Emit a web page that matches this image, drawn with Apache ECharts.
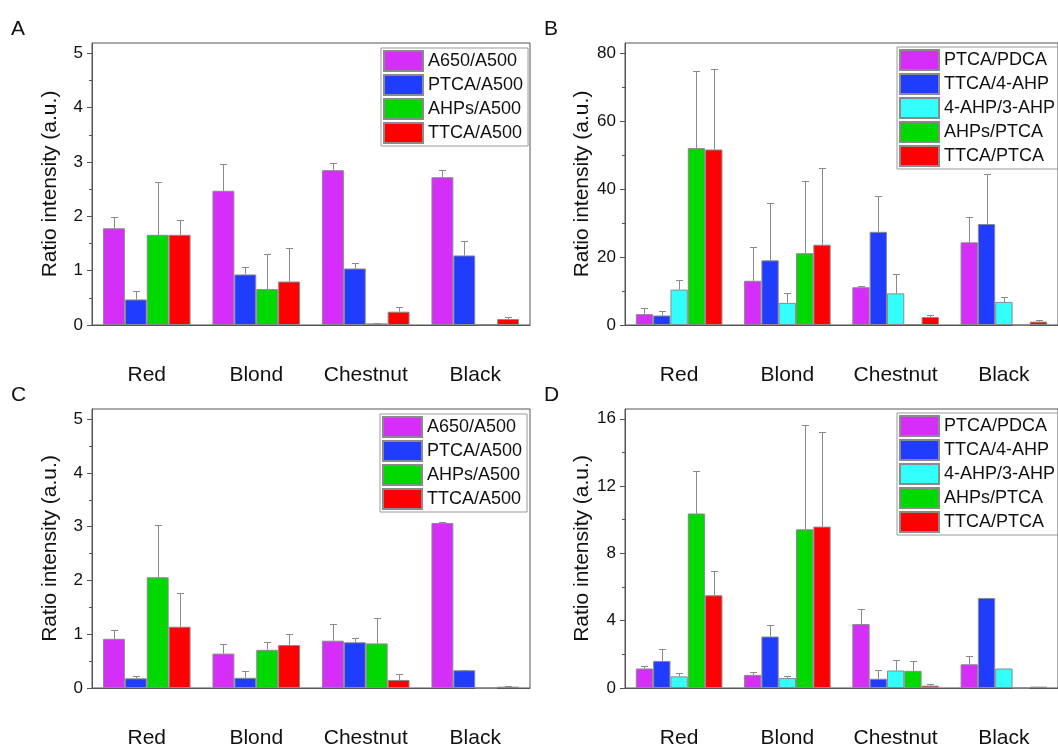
<!DOCTYPE html>
<html lang="en">
<head>
    <meta charset="UTF-8">
    <title>Ratio intensity</title>
    <script src="https://cdn.jsdelivr.net/npm/echarts@6/dist/echarts.min.js"></script>
    <style>
body{
    margin:0;
    background:#fff;
}
#chart{
    width:1058px;
    height:749px;
}
    </style>
</head>
<body>
<div id="chart"></div>
<script type="text/javascript">
    // categories (hair colour)
    var cats = ['Red', 'Blond', 'Chestnut', 'Black'];

    // panels A / C series names
    var namesAC = ['A650/A500', 'PTCA/A500', 'AHPs/A500', 'TTCA/A500'];
    // panels B / D series names
    var namesBD = ['PTCA/PDCA', 'TTCA/4-AHP', '4-AHP/3-AHP', 'AHPs/PTCA', 'TTCA/PTCA'];

    var colorsAC = ['#d42ef8', '#1f3cff', '#00d900', '#ff0000'];
    var colorsBD = ['#d42ef8', '#1f3cff', '#33ffff', '#00d900', '#ff0000'];

    // panel A values and errors (upper error only)
    var aA650 = [1.78, 2.47, 2.85, 2.72];
    var aA650Err = [0.21, 0.49, 0.13, 0.13];
    var aPTCA = [0.47, 0.93, 1.04, 1.28];
    var aPTCAErr = [0.16, 0.13, 0.11, 0.27];
    var aAHPs = [1.66, 0.66, 0.03, 0.01];
    var aAHPsErr = [0.97, 0.64, 0.01, 0];
    var aTTCA = [1.66, 0.80, 0.245, 0.11];
    var aTTCAErr = [0.27, 0.61, 0.09, 0.04];

    // panel B
    var bPTCAPDCA = [3.2, 13.0, 11.1, 24.3];
    var bPTCAPDCAErr = [1.7, 9.8, 0.5, 7.4];
    var bTTCA4AHP = [2.8, 19.0, 27.4, 29.7];
    var bTTCA4AHPErr = [1.3, 16.9, 10.6, 14.6];
    var b4AHP3AHP = [10.4, 6.5, 9.3, 6.8];
    var b4AHP3AHPErr = [2.8, 3.0, 5.8, 1.4];
    var bAHPsPTCA = [52.0, 21.1, 0.3, 0];
    var bAHPsPTCAErr = [22.6, 21.3, 0, 0];
    var bTTCAPTCA = [51.6, 23.6, 2.35, 1.0];
    var bTTCAPTCAErr = [23.7, 22.7, 0.65, 0.4];

    // panel C
    var cA650 = [0.915, 0.64, 0.88, 3.07];
    var cA650Err = [0.155, 0.17, 0.31, 0.02];
    var cPTCA = [0.18, 0.19, 0.85, 0.33];
    var cPTCAErr = [0.04, 0.12, 0.08, 0.01];
    var cAHPs = [2.06, 0.71, 0.83, 0];
    var cAHPsErr = [0.97, 0.14, 0.47, 0];
    var cTTCA = [1.14, 0.80, 0.15, 0.025];
    var cTTCAErr = [0.62, 0.20, 0.11, 0.015];

    // panel D
    var dPTCAPDCA = [1.16, 0.78, 3.80, 1.41];
    var dPTCAPDCAErr = [0.13, 0.16, 0.87, 0.47];
    var dTTCA4AHP = [1.61, 3.06, 0.55, 5.35];
    var dTTCA4AHPErr = [0.70, 0.70, 0.49, 0];
    var d4AHP3AHP = [0.69, 0.59, 1.04, 1.16];
    var d4AHP3AHPErr = [0.21, 0.12, 0.63, 0];
    var dAHPsPTCA = [10.37, 9.43, 1.02, 0];
    var dAHPsPTCAErr = [2.51, 6.17, 0.61, 0];
    var dTTCAPTCA = [5.51, 9.59, 0.14, 0.08];
    var dTTCAPTCAErr = [1.45, 5.61, 0.10, 0];

    // y tick labels
    var ticksAC = [0, 1, 2, 3, 4, 5];
    var ticksB = [0, 20, 40, 60, 80];
    var ticksD = [0, 4, 8, 12, 16];

    var font = "'Liberation Sans', Arial, sans-serif";
    var option = {
        textStyle: {fontFamily: font},
        animation: false,
        title: [], grid: [], xAxis: [], yAxis: [], legend: [], series: []
    };

    /*error bar drawn on top of the matching bar*/
    function errRender(n, i) {
        return function (params, api) {
            var e = api.value(2);
            if (!e) return;
            var band = api.size([1, 0])[0];
            var bw = band * 0.8 / n;
            var x = api.coord([api.value(0), 0])[0] + (i - (n - 1) / 2) * bw;
            x = Math.round(x) + 0.5;
            var y0 = api.coord([api.value(0), api.value(1)])[1];
            var y1 = Math.round(api.coord([api.value(0), api.value(1) + e])[1]) + 0.5;
            var st = {stroke: '#8a8a8a', lineWidth: 1};
            return {
                type: 'group',
                children: [
                    {type: 'line', shape: {x1: x, y1: y0, x2: x, y2: y1}, style: st},
                    {type: 'line', shape: {x1: x - 3.5, y1: y1, x2: x + 3.5, y2: y1}, style: st}
                ]
            };
        };
    }

    function addPanel(k, letter, box, legendPos, names, colors, vals, errs, yMax, yInt, ticks) {
        option.title.push({
            text: letter, left: box.left - 81, top: box.top - 24, padding: 0,
            textStyle: {fontSize: 21, fontWeight: 'normal', color: '#111', fontFamily: font}
        });
        option.grid.push({
            left: box.left, top: box.top, width: 438, height: 282,
            show: true, borderColor: '#555', borderWidth: 1
        });
        option.xAxis.push({
            type: 'category', gridIndex: k, data: cats,
            axisTick: {show: false},
            axisLine: {lineStyle: {color: '#555', width: 1}},
            axisLabel: {margin: 40, interval: 0, fontSize: 21, color: '#111', fontFamily: font}
        });
        option.yAxis.push({
            type: 'value', gridIndex: k, min: 0, max: yMax, interval: yInt,
            name: 'Ratio intensity (a.u.)', nameLocation: 'middle', nameGap: 31,
            nameTextStyle: {fontSize: 21, color: '#111', fontFamily: font},
            splitLine: {show: false},
            axisLine: {show: true, lineStyle: {color: '#555', width: 1}},
            axisTick: {show: true, inside: false, length: 5, customValues: ticks, lineStyle: {color: '#555'}},
            minorTick: {show: true, splitNumber: 2, length: 3, lineStyle: {color: '#555'}},
            axisLabel: {margin: 9, fontSize: 17, color: '#111', customValues: ticks, fontFamily: font}
        });
        option.legend.push({
            orient: 'vertical', left: legendPos[0], top: legendPos[1],
            data: names, icon: 'rect', selectedMode: false,
            itemWidth: 39, itemHeight: 20, itemGap: 2,
            padding: [2, 5, 2, 2],
            borderColor: '#999', borderWidth: 1,
            textStyle: {fontSize: 18, color: '#111', fontFamily: font}
        });
        var n = names.length;
        for (var i = 0; i < n; i++) {
            option.series.push({
                name: names[i], type: 'bar', xAxisIndex: k, yAxisIndex: k,
                data: vals[i], barGap: '0%', barCategoryGap: '20%',
                itemStyle: {color: colors[i], borderColor: '#8a8a8a', borderWidth: 1}
            });
        }
        for (var j = 0; j < n; j++) {
            var ed = vals[j].map(function (v, c) { return [c, v, errs[j][c]]; });
            option.series.push({
                type: 'custom', xAxisIndex: k, yAxisIndex: k, z: 5,
                renderItem: errRender(n, j), encode: {x: 0, y: 1},
                data: ed, silent: true
            });
        }
    }

    addPanel(0, 'A', {left: 92, top: 43}, [381, 48], namesAC, colorsAC,
        [aA650, aPTCA, aAHPs, aTTCA], [aA650Err, aPTCAErr, aAHPsErr, aTTCAErr], 5.19, 1, ticksAC);
    addPanel(1, 'B', {left: 625, top: 43}, [897, 47], namesBD, colorsBD,
        [bPTCAPDCA, bTTCA4AHP, b4AHP3AHP, bAHPsPTCA, bTTCAPTCA],
        [bPTCAPDCAErr, bTTCA4AHPErr, b4AHP3AHPErr, bAHPsPTCAErr, bTTCAPTCAErr], 82.9, 20, ticksB);
    addPanel(2, 'C', {left: 92, top: 409}, [380, 414], namesAC, colorsAC,
        [cA650, cPTCA, cAHPs, cTTCA], [cA650Err, cPTCAErr, cAHPsErr, cTTCAErr], 5.19, 1, ticksAC);
    addPanel(3, 'D', {left: 625, top: 409}, [897, 413], namesBD, colorsBD,
        [dPTCAPDCA, dTTCA4AHP, d4AHP3AHP, dAHPsPTCA, dTTCAPTCA],
        [dPTCAPDCAErr, dTTCA4AHPErr, d4AHP3AHPErr, dAHPsPTCAErr, dTTCAPTCAErr], 16.58, 4, ticksD);

    var myChart = echarts.init(document.getElementById('chart'));
    myChart.setOption(option);
</script>
</body>
</html>
